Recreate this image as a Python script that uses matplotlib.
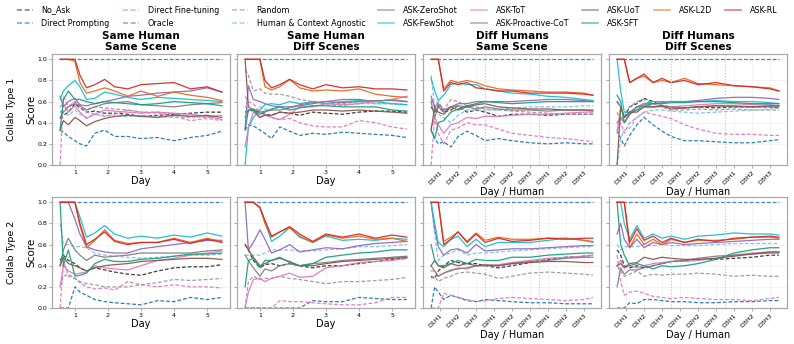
import numpy as np
import matplotlib.pyplot as plt
from matplotlib.lines import Line2D

# methods, colours and line styles
METHODS = ['No_Ask', 'Direct Prompting', 'Direct Fine-tuning', 'Oracle', 'Random',
           'Human & Context Agnostic', 'ASK-ZeroShot', 'ASK-FewShot', 'ASK-ToT',
           'ASK-Proactive-CoT', 'ASK-UoT', 'ASK-SFT', 'ASK-L2D', 'ASK-RL']
COLORS = ['#333333', '#1f77b4', '#e377c2', '#3a7dc9', '#999999', '#7cc0ec',
          '#9467bd', '#17becf', '#e377c2', '#7f7f7f', '#8c564b', '#16a07a',
          '#e8681b', '#d62728']
STYLES = ['--'] * 6 + ['-'] * 8

X_DAY = [0.55, 0.65, 0.8, 1.0, 1.15, 1.35, 1.6, 1.9, 2.2, 2.6, 3.0, 3.5, 4.0, 4.5, 5.0, 5.45]
X_DH = [0.5, 0.7, 0.9, 1.2, 1.6, 2.0, 2.5, 3.0, 3.5, 4.25, 5.0, 6.0, 7.0, 8.0, 9.0, 9.5]
DH_LABELS = ['D1H1', 'D1H2', 'D1H3', 'D2H1', 'D2H2', 'D2H3', 'D3H1', 'D3H2', 'D3H3']

ONES = [1.0] * 16

# Collab Type 1, Same Human / Same Scene
t1_same_same = {
    'No_Ask': [0.44, 0.47, 0.50, 0.58, 0.54, 0.50, 0.51, 0.49, 0.49, 0.48, 0.46, 0.47, 0.48, 0.49, 0.50, 0.50],
    'Direct Prompting': [0.33, 0.31, 0.27, 0.23, 0.20, 0.18, 0.30, 0.33, 0.27, 0.27, 0.25, 0.26, 0.23, 0.26, 0.28, 0.32],
    'Direct Fine-tuning': [0.0, 0.65, 0.55, 0.60, 0.55, 0.50, 0.48, 0.46, 0.48, 0.52, 0.50, 0.49, 0.46, 0.42, 0.44, 0.42],
    'Oracle': ONES,
    'Random': [0.50, 0.52, 0.55, 0.60, 0.56, 0.52, 0.55, 0.54, 0.53, 0.52, 0.50, 0.50, 0.48, 0.46, 0.45, 0.47],
    'Human & Context Agnostic': [0.50, 0.48, 0.47, 0.52, 0.48, 0.45, 0.48, 0.47, 0.46, 0.46, 0.47, 0.46, 0.45, 0.45, 0.46, 0.47],
    'ASK-ZeroShot': [0.65, 0.55, 0.60, 0.63, 0.57, 0.56, 0.58, 0.60, 0.62, 0.65, 0.66, 0.68, 0.69, 0.70, 0.73, 0.69],
    'ASK-FewShot': [0.62, 0.70, 0.75, 0.80, 0.74, 0.62, 0.63, 0.69, 0.67, 0.64, 0.62, 0.64, 0.63, 0.62, 0.61, 0.60],
    'ASK-ToT': [0.55, 0.58, 0.50, 0.56, 0.50, 0.44, 0.48, 0.52, 0.51, 0.50, 0.49, 0.50, 0.49, 0.48, 0.46, 0.43],
    'ASK-Proactive-CoT': [0.45, 0.50, 0.55, 0.58, 0.56, 0.52, 0.55, 0.58, 0.59, 0.60, 0.57, 0.56, 0.55, 0.57, 0.58, 0.59],
    'ASK-UoT': [0.33, 0.42, 0.38, 0.45, 0.42, 0.37, 0.41, 0.44, 0.46, 0.47, 0.46, 0.45, 0.47, 0.46, 0.47, 0.45],
    'ASK-SFT': [0.33, 0.62, 0.70, 0.62, 0.62, 0.60, 0.58, 0.60, 0.59, 0.58, 0.57, 0.58, 0.60, 0.59, 0.58, 0.56],
    'ASK-L2D': [1, 1, 1, 0.98, 0.78, 0.68, 0.70, 0.73, 0.70, 0.65, 0.70, 0.65, 0.69, 0.66, 0.64, 0.61],
    'ASK-RL': [1, 1, 1, 1, 0.85, 0.73, 0.76, 0.81, 0.74, 0.72, 0.76, 0.77, 0.78, 0.72, 0.74, 0.69],
}

# Collab Type 1, Same Human / Diff Scenes
t1_same_diff = {
    'No_Ask': [0.50, 0.51, 0.52, 0.50, 0.48, 0.47, 0.50, 0.49, 0.47, 0.50, 0.49, 0.48, 0.50, 0.51, 0.51, 0.50],
    'Direct Prompting': [0.33, 0.38, 0.37, 0.33, 0.30, 0.25, 0.36, 0.32, 0.28, 0.30, 0.29, 0.31, 0.30, 0.29, 0.28, 0.26],
    'Direct Fine-tuning': [0.65, 0.60, 0.58, 0.50, 0.47, 0.45, 0.43, 0.44, 0.40, 0.37, 0.36, 0.36, 0.42, 0.40, 0.36, 0.34],
    'Oracle': ONES,
    'Random': [0.90, 0.85, 0.70, 0.72, 0.68, 0.67, 0.67, 0.65, 0.62, 0.60, 0.58, 0.58, 0.60, 0.58, 0.58, 0.57],
    'Human & Context Agnostic': [0.55, 0.53, 0.50, 0.55, 0.53, 0.52, 0.55, 0.55, 0.55, 0.56, 0.57, 0.56, 0.58, 0.58, 0.58, 0.57],
    'ASK-ZeroShot': [0.35, 0.75, 0.62, 0.60, 0.58, 0.56, 0.55, 0.55, 0.56, 0.58, 0.60, 0.62, 0.62, 0.60, 0.62, 0.60],
    'ASK-FewShot': [0.0, 0.35, 0.45, 0.52, 0.57, 0.58, 0.57, 0.60, 0.58, 0.60, 0.58, 0.60, 0.61, 0.60, 0.58, 0.57],
    'ASK-ToT': [0.17, 0.35, 0.50, 0.45, 0.48, 0.45, 0.43, 0.48, 0.55, 0.55, 0.58, 0.57, 0.58, 0.60, 0.62, 0.65],
    'ASK-Proactive-CoT': [0.45, 0.52, 0.53, 0.50, 0.51, 0.52, 0.52, 0.54, 0.57, 0.59, 0.60, 0.59, 0.60, 0.61, 0.61, 0.60],
    'ASK-UoT': [1.0, 0.55, 0.52, 0.45, 0.47, 0.47, 0.50, 0.49, 0.50, 0.52, 0.52, 0.51, 0.52, 0.51, 0.50, 0.49],
    'ASK-SFT': [0.33, 0.52, 0.52, 0.48, 0.50, 0.53, 0.55, 0.52, 0.54, 0.56, 0.56, 0.55, 0.55, 0.55, 0.52, 0.51],
    'ASK-L2D': [1, 1, 1, 1, 0.74, 0.71, 0.74, 0.81, 0.73, 0.70, 0.71, 0.70, 0.72, 0.67, 0.65, 0.64],
    'ASK-RL': [1, 1, 1, 1, 0.80, 0.73, 0.76, 0.81, 0.76, 0.72, 0.76, 0.73, 0.74, 0.72, 0.72, 0.71],
}

# Collab Type 1, Diff Humans / Same Scene
t1_diff_same = {
    'No_Ask': [0.55, 0.50, 0.56, 0.50, 0.52, 0.56, 0.50, 0.52, 0.50, 0.46, 0.48, 0.48, 0.47, 0.48, 0.48, 0.48],
    'Direct Prompting': [0.33, 0.25, 0.20, 0.22, 0.17, 0.27, 0.32, 0.28, 0.23, 0.25, 0.23, 0.21, 0.20, 0.21, 0.20, 0.20],
    'Direct Fine-tuning': [0.0, 0.45, 0.30, 0.20, 0.33, 0.35, 0.40, 0.38, 0.38, 0.34, 0.30, 0.28, 0.26, 0.25, 0.23, 0.22],
    'Oracle': ONES,
    'Random': [0.62, 0.55, 0.60, 0.52, 0.62, 0.60, 0.56, 0.55, 0.53, 0.52, 0.51, 0.50, 0.49, 0.48, 0.48, 0.48],
    'Human & Context Agnostic': [0.85, 0.55, 0.48, 0.45, 0.40, 0.47, 0.52, 0.52, 0.52, 0.52, 0.54, 0.55, 0.55, 0.55, 0.56, 0.56],
    'ASK-ZeroShot': [0.65, 0.55, 0.58, 0.52, 0.55, 0.58, 0.58, 0.60, 0.60, 0.60, 0.60, 0.61, 0.62, 0.62, 0.61, 0.60],
    'ASK-FewShot': [0.82, 0.70, 0.61, 0.66, 0.76, 0.78, 0.76, 0.76, 0.72, 0.70, 0.68, 0.67, 0.65, 0.64, 0.62, 0.61],
    'ASK-ToT': [0.35, 0.45, 0.38, 0.30, 0.38, 0.40, 0.45, 0.44, 0.46, 0.46, 0.47, 0.48, 0.48, 0.49, 0.50, 0.50],
    'ASK-Proactive-CoT': [0.60, 0.45, 0.55, 0.50, 0.55, 0.56, 0.55, 0.53, 0.55, 0.53, 0.52, 0.52, 0.51, 0.52, 0.52, 0.51],
    'ASK-UoT': [0.33, 0.55, 0.50, 0.48, 0.55, 0.52, 0.55, 0.57, 0.58, 0.55, 0.54, 0.53, 0.53, 0.52, 0.52, 0.52],
    'ASK-SFT': [0.33, 0.25, 0.40, 0.42, 0.50, 0.53, 0.56, 0.58, 0.60, 0.59, 0.58, 0.59, 0.60, 0.60, 0.60, 0.60],
    'ASK-L2D': [1, 1, 1, 0.72, 0.80, 0.78, 0.80, 0.78, 0.75, 0.72, 0.71, 0.70, 0.69, 0.69, 0.68, 0.66],
    'ASK-RL': [1, 1, 1, 0.70, 0.78, 0.76, 0.78, 0.73, 0.72, 0.70, 0.70, 0.68, 0.68, 0.68, 0.67, 0.66],
}

# Collab Type 1, Diff Humans / Diff Scenes
t1_diff_diff = {
    'No_Ask': [0.60, 0.55, 0.45, 0.55, 0.58, 0.63, 0.60, 0.56, 0.55, 0.54, 0.55, 0.54, 0.55, 0.55, 0.55, 0.54],
    'Direct Prompting': [0.33, 0.25, 0.18, 0.28, 0.38, 0.45, 0.38, 0.32, 0.27, 0.23, 0.23, 0.22, 0.21, 0.21, 0.23, 0.24],
    'Direct Fine-tuning': [0.33, 0.40, 0.30, 0.40, 0.45, 0.50, 0.48, 0.46, 0.44, 0.38, 0.34, 0.30, 0.29, 0.29, 0.28, 0.28],
    'Oracle': ONES,
    'Random': [0.50, 0.42, 0.48, 0.55, 0.60, 0.62, 0.58, 0.55, 0.52, 0.52, 0.53, 0.52, 0.53, 0.52, 0.52, 0.52],
    'Human & Context Agnostic': [0.0, 0.25, 0.33, 0.35, 0.45, 0.50, 0.52, 0.52, 0.51, 0.50, 0.49, 0.50, 0.51, 0.52, 0.53, 0.54],
    'ASK-ZeroShot': [0.60, 0.55, 0.45, 0.50, 0.55, 0.58, 0.58, 0.59, 0.60, 0.60, 0.61, 0.63, 0.64, 0.64, 0.63, 0.62],
    'ASK-FewShot': [1.0, 0.70, 0.50, 0.50, 0.52, 0.58, 0.60, 0.60, 0.60, 0.60, 0.60, 0.61, 0.60, 0.60, 0.59, 0.58],
    'ASK-ToT': [0.30, 0.55, 0.45, 0.48, 0.55, 0.58, 0.55, 0.55, 0.55, 0.56, 0.57, 0.58, 0.58, 0.57, 0.57, 0.56],
    'ASK-Proactive-CoT': [0.40, 0.45, 0.40, 0.48, 0.52, 0.55, 0.55, 0.56, 0.55, 0.54, 0.55, 0.56, 0.55, 0.55, 0.55, 0.55],
    'ASK-UoT': [0.0, 0.55, 0.45, 0.50, 0.50, 0.55, 0.55, 0.56, 0.53, 0.54, 0.55, 0.56, 0.56, 0.55, 0.56, 0.56],
    'ASK-SFT': [0.66, 0.60, 0.40, 0.48, 0.55, 0.56, 0.58, 0.58, 0.59, 0.59, 0.60, 0.60, 0.59, 0.58, 0.58, 0.58],
    'ASK-L2D': [1, 1, 1, 0.78, 0.82, 0.84, 0.78, 0.80, 0.78, 0.82, 0.77, 0.76, 0.75, 0.74, 0.73, 0.70],
    'ASK-RL': [1, 1, 1, 0.78, 0.82, 0.86, 0.78, 0.82, 0.78, 0.80, 0.76, 0.78, 0.75, 0.74, 0.72, 0.70],
}

# Collab Type 2, Same Human / Same Scene
t2_same_same = {
    'No_Ask': [0.45, 0.50, 0.45, 0.42, 0.38, 0.35, 0.38, 0.36, 0.34, 0.32, 0.31, 0.35, 0.38, 0.39, 0.39, 0.41],
    'Direct Prompting': [0.0, 0.0, 0.0, 0.20, 0.15, 0.12, 0.08, 0.06, 0.05, 0.04, 0.03, 0.07, 0.06, 0.10, 0.08, 0.10],
    'Direct Fine-tuning': [0.0, 0.45, 0.30, 0.28, 0.24, 0.20, 0.18, 0.19, 0.17, 0.25, 0.22, 0.20, 0.22, 0.20, 0.20, 0.19],
    'Oracle': ONES,
    'Random': [0.20, 0.30, 0.32, 0.28, 0.25, 0.23, 0.22, 0.20, 0.20, 0.20, 0.22, 0.24, 0.27, 0.26, 0.27, 0.28],
    'Human & Context Agnostic': [0.80, 0.60, 0.60, 0.58, 0.58, 0.57, 0.52, 0.50, 0.49, 0.48, 0.47, 0.48, 0.49, 0.50, 0.50, 0.51],
    'ASK-ZeroShot': [1, 1, 1, 0.84, 0.70, 0.58, 0.55, 0.53, 0.52, 0.52, 0.56, 0.58, 0.60, 0.62, 0.64, 0.64],
    'ASK-FewShot': [1, 1, 1, 1, 0.86, 0.67, 0.71, 0.78, 0.70, 0.66, 0.68, 0.66, 0.69, 0.67, 0.71, 0.68],
    'ASK-ToT': [0.20, 0.40, 0.35, 0.32, 0.33, 0.34, 0.40, 0.38, 0.37, 0.36, 0.40, 0.45, 0.47, 0.50, 0.52, 0.54],
    'ASK-Proactive-CoT': [0.40, 0.55, 0.66, 0.55, 0.50, 0.45, 0.50, 0.48, 0.49, 0.50, 0.52, 0.52, 0.52, 0.52, 0.54, 0.55],
    'ASK-UoT': [0.40, 0.48, 0.42, 0.40, 0.38, 0.35, 0.38, 0.40, 0.41, 0.42, 0.44, 0.45, 0.46, 0.47, 0.47, 0.46],
    'ASK-SFT': [1.0, 0.40, 0.55, 0.30, 0.31, 0.33, 0.42, 0.46, 0.44, 0.44, 0.46, 0.47, 0.49, 0.51, 0.51, 0.52],
    'ASK-L2D': [1, 1, 1, 1, 0.78, 0.57, 0.64, 0.74, 0.64, 0.61, 0.62, 0.62, 0.66, 0.62, 0.66, 0.63],
    'ASK-RL': [1, 1, 1, 1, 0.80, 0.60, 0.65, 0.72, 0.63, 0.60, 0.62, 0.62, 0.65, 0.61, 0.65, 0.62],
}

# Collab Type 2, Same Human / Diff Scenes
t2_same_diff = {
    'No_Ask': [0.60, 0.55, 0.45, 0.38, 0.41, 0.42, 0.40, 0.42, 0.40, 0.38, 0.40, 0.40, 0.42, 0.44, 0.46, 0.47],
    'Direct Prompting': [0, 0, 0, 0, 0, 0, 0, 0, 0, 0.07, 0.06, 0.06, 0.10, 0.09, 0.08, 0.08],
    'Direct Fine-tuning': [0, 0, 0, 0, 0, 0, 0.07, 0.06, 0.06, 0.05, 0.04, 0.03, 0.03, 0.05, 0.10, 0.10],
    'Oracle': ONES,
    'Random': [0.0, 0.25, 0.30, 0.27, 0.28, 0.28, 0.30, 0.28, 0.27, 0.25, 0.23, 0.25, 0.25, 0.26, 0.27, 0.29],
    'Human & Context Agnostic': [0.50, 0.50, 0.50, 0.50, 0.52, 0.55, 0.55, 0.55, 0.54, 0.54, 0.55, 0.56, 0.58, 0.58, 0.59, 0.60],
    'ASK-ZeroShot': [1.0, 0.55, 0.62, 0.74, 0.65, 0.52, 0.55, 0.60, 0.53, 0.55, 0.57, 0.56, 0.59, 0.61, 0.62, 0.63],
    'ASK-FewShot': [1, 1, 1, 0.95, 0.82, 0.63, 0.68, 0.76, 0.67, 0.62, 0.68, 0.64, 0.65, 0.64, 0.66, 0.65],
    'ASK-ToT': [0.0, 0.15, 0.27, 0.28, 0.25, 0.28, 0.30, 0.33, 0.29, 0.30, 0.38, 0.40, 0.43, 0.44, 0.45, 0.47],
    'ASK-Proactive-CoT': [0.50, 0.45, 0.38, 0.30, 0.37, 0.35, 0.40, 0.42, 0.40, 0.42, 0.43, 0.45, 0.46, 0.47, 0.48, 0.49],
    'ASK-UoT': [0.60, 0.55, 0.48, 0.40, 0.42, 0.45, 0.47, 0.44, 0.40, 0.40, 0.42, 0.44, 0.45, 0.46, 0.47, 0.48],
    'ASK-SFT': [0.20, 0.45, 0.47, 0.38, 0.45, 0.45, 0.48, 0.43, 0.40, 0.42, 0.48, 0.50, 0.52, 0.53, 0.55, 0.55],
    'ASK-L2D': [1, 1, 1, 0.95, 0.80, 0.67, 0.72, 0.76, 0.68, 0.62, 0.69, 0.66, 0.68, 0.65, 0.66, 0.63],
    'ASK-RL': [1, 1, 1, 0.95, 0.83, 0.68, 0.72, 0.77, 0.70, 0.63, 0.70, 0.67, 0.70, 0.66, 0.69, 0.67],
}

# Collab Type 2, Diff Humans / Same Scene
t2_diff_same = {
    'No_Ask': [0.30, 0.28, 0.35, 0.40, 0.45, 0.43, 0.42, 0.42, 0.40, 0.38, 0.40, 0.43, 0.46, 0.48, 0.49, 0.50],
    'Direct Prompting': [0, 0.20, 0.15, 0.08, 0.12, 0.10, 0.07, 0.06, 0.08, 0.07, 0.06, 0.05, 0.05, 0.04, 0.04, 0.04],
    'Direct Fine-tuning': [0, 0, 0, 0.14, 0.12, 0.10, 0.08, 0.06, 0.07, 0.09, 0.10, 0.09, 0.08, 0.07, 0.08, 0.10],
    'Oracle': ONES,
    'Random': [0.28, 0.30, 0.25, 0.28, 0.30, 0.33, 0.34, 0.33, 0.32, 0.28, 0.30, 0.33, 0.34, 0.33, 0.32, 0.31],
    'Human & Context Agnostic': [1.0, 0.70, 0.45, 0.50, 0.52, 0.55, 0.50, 0.52, 0.52, 0.53, 0.54, 0.55, 0.56, 0.57, 0.58, 0.58],
    'ASK-ZeroShot': [1, 0.75, 0.58, 0.50, 0.55, 0.56, 0.52, 0.60, 0.54, 0.55, 0.56, 0.56, 0.57, 0.58, 0.59, 0.59],
    'ASK-FewShot': [1, 0.80, 0.62, 0.58, 0.65, 0.68, 0.58, 0.65, 0.58, 0.62, 0.62, 0.62, 0.64, 0.66, 0.64, 0.62],
    'ASK-ToT': [0.35, 0.35, 0.30, 0.33, 0.35, 0.38, 0.37, 0.40, 0.40, 0.41, 0.43, 0.45, 0.47, 0.48, 0.49, 0.50],
    'ASK-Proactive-CoT': [0.40, 0.35, 0.30, 0.33, 0.36, 0.37, 0.38, 0.40, 0.40, 0.40, 0.42, 0.44, 0.45, 0.47, 0.48, 0.48],
    'ASK-UoT': [0.40, 0.45, 0.40, 0.38, 0.42, 0.40, 0.42, 0.40, 0.41, 0.40, 0.42, 0.43, 0.44, 0.44, 0.43, 0.43],
    'ASK-SFT': [0.60, 0.45, 0.40, 0.40, 0.42, 0.45, 0.42, 0.46, 0.45, 0.45, 0.48, 0.48, 0.50, 0.51, 0.52, 0.52],
    'ASK-L2D': [1, 1, 1, 0.63, 0.67, 0.72, 0.63, 0.71, 0.64, 0.67, 0.65, 0.65, 0.66, 0.66, 0.64, 0.63],
    'ASK-RL': [1, 1, 1, 0.60, 0.65, 0.72, 0.62, 0.70, 0.62, 0.66, 0.63, 0.64, 0.66, 0.65, 0.66, 0.66],
}

# Collab Type 2, Diff Humans / Diff Scenes
t2_diff_diff = {
    'No_Ask': [0.55, 0.50, 0.40, 0.38, 0.40, 0.38, 0.40, 0.42, 0.44, 0.45, 0.46, 0.46, 0.47, 0.48, 0.50, 0.50],
    'Direct Prompting': [0, 0, 0, 0.05, 0.04, 0.08, 0.08, 0.07, 0.06, 0.06, 0.05, 0.05, 0.06, 0.06, 0.07, 0.07],
    'Direct Fine-tuning': [0.50, 0.25, 0.12, 0.15, 0.16, 0.14, 0.11, 0.10, 0.09, 0.10, 0.09, 0.08, 0.08, 0.07, 0.09, 0.10],
    'Oracle': ONES,
    'Random': [0.40, 0.35, 0.30, 0.32, 0.35, 0.30, 0.32, 0.31, 0.32, 0.32, 0.33, 0.32, 0.30, 0.31, 0.30, 0.30],
    'Human & Context Agnostic': [0.60, 0.55, 0.58, 0.58, 0.58, 0.60, 0.59, 0.60, 0.59, 0.59, 0.59, 0.60, 0.61, 0.61, 0.61, 0.61],
    'ASK-ZeroShot': [0.70, 0.80, 0.65, 0.57, 0.65, 0.57, 0.62, 0.60, 0.62, 0.60, 0.61, 0.62, 0.63, 0.64, 0.65, 0.65],
    'ASK-FewShot': [1, 1, 0.80, 0.65, 0.78, 0.66, 0.70, 0.66, 0.68, 0.65, 0.68, 0.69, 0.71, 0.70, 0.70, 0.69],
    'ASK-ToT': [0.40, 0.45, 0.38, 0.40, 0.38, 0.40, 0.42, 0.43, 0.44, 0.44, 0.45, 0.47, 0.50, 0.52, 0.53, 0.53],
    'ASK-Proactive-CoT': [0.20, 0.38, 0.32, 0.36, 0.36, 0.38, 0.40, 0.42, 0.44, 0.45, 0.47, 0.49, 0.50, 0.51, 0.52, 0.52],
    'ASK-UoT': [0.40, 0.42, 0.38, 0.42, 0.43, 0.48, 0.46, 0.48, 0.47, 0.46, 0.46, 0.47, 0.49, 0.51, 0.53, 0.53],
    'ASK-SFT': [1.0, 0.60, 0.50, 0.40, 0.42, 0.40, 0.37, 0.40, 0.39, 0.40, 0.42, 0.46, 0.52, 0.55, 0.57, 0.57],
    'ASK-L2D': [1, 1, 1, 0.57, 0.70, 0.60, 0.65, 0.60, 0.65, 0.62, 0.64, 0.64, 0.65, 0.67, 0.67, 0.66],
    'ASK-RL': [1, 1, 1, 0.62, 0.75, 0.64, 0.68, 0.62, 0.66, 0.62, 0.65, 0.63, 0.66, 0.67, 0.68, 0.67],
}

TITLES = ['Same Human\nSame Scene', 'Same Human\nDiff Scenes',
          'Diff Humans\nSame Scene', 'Diff Humans\nDiff Scenes']
PANELS = [[t1_same_same, t1_same_diff, t1_diff_same, t1_diff_diff],
          [t2_same_same, t2_same_diff, t2_diff_same, t2_diff_diff]]
ROW_LABELS = ['Collab Type 1', 'Collab Type 2']

W, H = 794, 344
fig = plt.figure(figsize=(W / 100, H / 100), dpi=100)

col_left = [52, 237, 423, 609]
col_w = 178
row_top = [54, 197]
row_h = 111

for r in range(2):
    for c in range(4):
        ax = fig.add_axes([col_left[c] / W, 1 - (row_top[r] + row_h) / H, col_w / W, row_h / H])
        data = PANELS[r][c]
        x = X_DAY if c < 2 else X_DH
        for name, color, ls in zip(METHODS, COLORS, STYLES):
            ax.plot(x, data[name], color=color, linestyle=ls, linewidth=0.9,
                    dashes=(3, 1.6) if ls == '--' else (None, None), alpha=0.95)
        ax.set_ylim(0, 1.05)
        ax.set_yticks([0, 0.2, 0.4, 0.6, 0.8, 1.0])
        if c == 0:
            ax.set_yticklabels(['0.0', '0.2', '0.4', '0.6', '0.8', '1.0'])
            ax.set_ylabel('Score', fontsize=7.5, labelpad=0.5)
        else:
            ax.set_yticklabels([])
        if c < 2:
            ax.set_xlim(0.305, 5.695)
            ax.set_xticks([1, 2, 3, 4, 5])
            ax.set_xlabel('Day', fontsize=7, labelpad=1)
        else:
            ax.set_xlim(0.05, 9.95)
            ax.set_xticks(range(1, 10))
            ax.set_xticklabels(DH_LABELS, rotation=45, ha='right', rotation_mode='anchor')
            ax.axvline(3.5, color='#bbbbbb', linestyle=':', linewidth=0.8)
            ax.axvline(6.5, color='#bbbbbb', linestyle=':', linewidth=0.8)
            ax.set_xlabel('Day / Human', fontsize=7, labelpad=1)
        ax.tick_params(labelsize=4.5, length=2, width=0.5, color='#888888', pad=1.5)
        ax.grid(True, color='#eeeeee', linewidth=0.5)
        ax.set_axisbelow(True)
        for s in ax.spines.values():
            s.set_color('#aaaaaa')
            s.set_linewidth(0.9)
        if r == 0:
            ax.set_title(TITLES[c], fontsize=7.5, fontweight='bold', pad=3, linespacing=1.1)
    fig.text(0.014, 1 - (row_top[r] + row_h / 2) / H, ROW_LABELS[r], rotation=90,
             va='center', ha='center', fontsize=6.8)

handles = [Line2D([0], [0], color=c, linestyle=ls, linewidth=1.2, alpha=0.6,
                  dashes=(3, 1.6) if ls == '--' else (None, None))
           for c, ls in zip(COLORS, STYLES)]
fig.legend(handles, METHODS, loc='upper center', bbox_to_anchor=(0.5, 1.005), ncol=8,
           fontsize=5.8, frameon=False, handlelength=2.0, columnspacing=1.6,
           labelspacing=0.55, handletextpad=1.1)

fig.savefig('out.png', dpi=100)
